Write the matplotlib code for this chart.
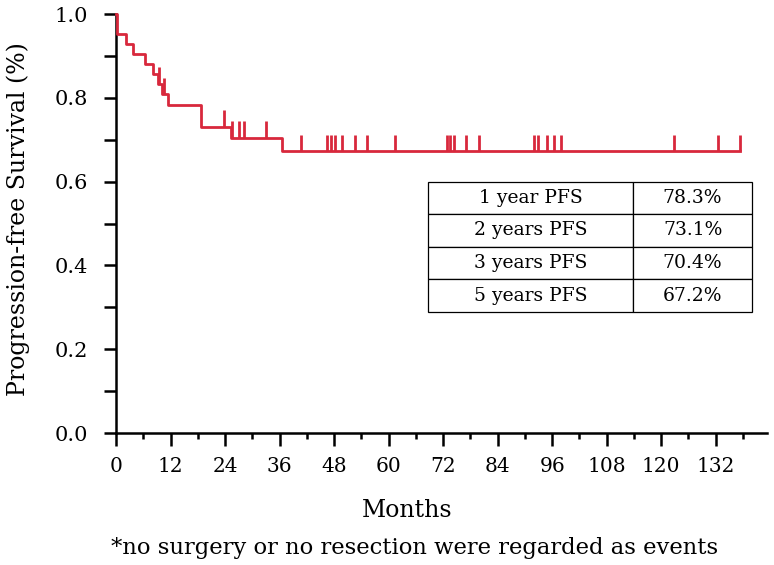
import numpy as np
import matplotlib
matplotlib.use('Agg')
import matplotlib.pyplot as plt
from matplotlib.ticker import FixedLocator

plt.rcParams['font.family'] = ['DejaVu Serif']

# Kaplan-Meier steps (months, survival after the drop)
event_months = [0.3, 2.1, 3.8, 6.4, 8.2, 9.2, 10.0, 11.5, 18.8, 25.4, 36.6]
event_surv = [0.952, 0.929, 0.905, 0.881, 0.857, 0.833, 0.808, 0.783, 0.731, 0.704, 0.672]

# censored patients (months)
censor_months = [9.5, 10.6, 23.7, 25.6, 27.1, 28.1, 33.1, 40.8, 46.5, 47.2, 48.1,
                 49.8, 52.5, 55.3, 61.3, 72.8, 73.6, 74.4, 77.1, 80.0, 92.1, 92.8,
                 94.8, 96.3, 98.0, 122.9, 132.6, 137.3]

table_rows = ['1 year PFS', '2 years PFS', '3 years PFS', '5 years PFS']
table_vals = ['78.3%', '73.1%', '70.4%', '67.2%']

x_ticks = list(range(0, 133, 12))
y_ticks = [0.0, 0.2, 0.4, 0.6, 0.8, 1.0]
y_labels = ['0.0', '0.2', '0.4', '0.6', '0.8', '1.0']
red = '#d8283c'

fig = plt.figure(figsize=(7.74, 5.65), dpi=100)
ax = fig.add_axes([0.150, 0.2336, 0.841, 0.7416])

# step curve
end = max(censor_months)
xs = [0] + event_months + [end]
ys = [1.0] + event_surv + [event_surv[-1]]
ax.plot(xs, ys, drawstyle='steps-post', color=red, lw=2.0, clip_on=False, zorder=3)

# censor marks
times = np.array([0] + event_months)
levels = np.array([1.0] + event_surv)
cl = levels[np.searchsorted(times, censor_months, side='right') - 1]
ax.vlines(censor_months, cl, cl + 0.04, color=red, lw=2.0, zorder=3)

ax.set_xlim(0, 143.3)
ax.set_ylim(0, 1.0)
for s in ['top', 'right']:
    ax.spines[s].set_visible(False)
for s in ['left', 'bottom']:
    ax.spines[s].set_linewidth(1.8)

ax.xaxis.set_major_locator(FixedLocator(x_ticks))
ax.xaxis.set_minor_locator(FixedLocator(np.arange(6, 143, 6)))
ax.set_yticks(y_ticks)
ax.set_yticklabels(y_labels)
ax.yaxis.set_minor_locator(FixedLocator(np.arange(0.1, 1.0, 0.2)))
ax.tick_params(axis='x', which='major', length=9, width=1.8, labelsize=14.5, pad=8)
ax.tick_params(axis='x', which='minor', length=4, width=1.8)
ax.tick_params(axis='y', which='both', length=9, width=1.8, labelsize=15, pad=11)

fig.text(0.024, 0.612, 'Progression-free Survival (%)', rotation=90,
         ha='center', va='center', fontsize=17)
fig.text(0.526, 0.097, 'Months', ha='center', va='center', fontsize=17)
fig.text(0.536, 0.030, '*no surgery or no resection were regarded as events',
         ha='center', va='center', fontsize=16.3)

tab = ax.table(cellText=[[r, v] for r, v in zip(table_rows, table_vals)],
               cellLoc='center', bbox=[0.479, 0.289, 0.498, 0.311],
               colWidths=[0.633, 0.367])
tab.auto_set_font_size(False)
tab.set_fontsize(13.5)
for cell in tab.get_celld().values():
    cell.set_linewidth(0.9)

fig.savefig('out.png', dpi=100)
